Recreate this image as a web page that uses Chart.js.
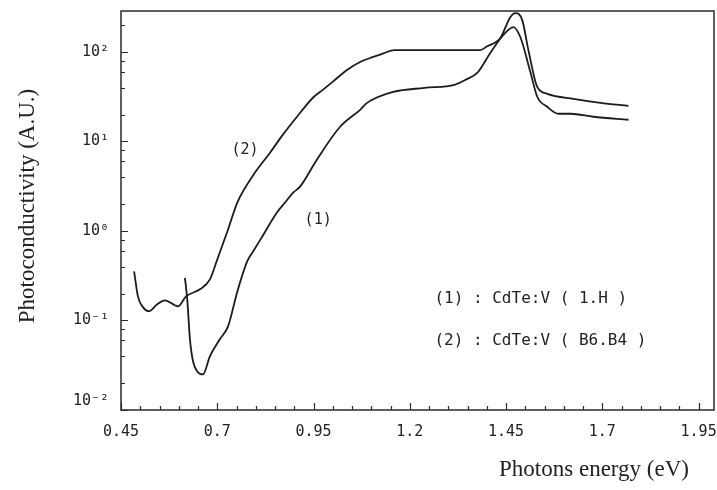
<!DOCTYPE html>
<html>
<head>
<meta charset="utf-8">
<script src="https://cdn.jsdelivr.net/npm/chart.js@4.4.1/dist/chart.umd.min.js"></script>
<style>
  body { margin: 0; background: #fff; }
  canvas { display: block; }
</style>
</head>
<body>
<canvas id="myChart" width="717" height="490"></canvas>
<script>
// curve (1) : CdTe:V ( 1.H )
const energy1 = [0.616, 0.622, 0.629, 0.637, 0.648, 0.663, 0.681, 0.707, 0.728, 0.752,
  0.778, 0.793, 0.817, 0.855, 0.876, 0.897, 0.915, 0.959, 1.019, 1.071,
  1.089, 1.157, 1.238, 1.316, 1.344, 1.375, 1.409, 1.443, 1.469, 1.487,
  1.513, 1.531, 1.557, 1.586, 1.617, 1.677, 1.768];
const photo1 = [0.30, 0.173, 0.062, 0.035, 0.027, 0.025, 0.040, 0.062, 0.086, 0.21,
  0.46, 0.59, 0.87, 1.61, 2.08, 2.68, 3.13, 6.3, 14.6, 22.6,
  27.0, 35.8, 39.7, 42.9, 48.7, 58.3, 97.5, 155, 190, 147,
  60, 31.6, 24.4, 20.4, 20.4, 18.9, 17.5];

// curve (2) : CdTe:V ( B6.B4 )
const energy2 = [0.484, 0.494, 0.507, 0.523, 0.544, 0.564, 0.590, 0.598, 0.619, 0.655,
  0.681, 0.700, 0.728, 0.752, 0.798, 0.837, 0.871, 0.907, 0.949, 0.975, 1.001,
  1.037, 1.071, 1.105, 1.130, 1.160, 1.250, 1.330, 1.383, 1.400, 1.435, 1.461,
  1.474, 1.492, 1.508, 1.531, 1.557, 1.625, 1.695, 1.768];
const photo2 = [0.354, 0.186, 0.141, 0.127, 0.152, 0.168, 0.148, 0.144, 0.186, 0.223,
  0.288, 0.48, 1.04, 2.08, 4.49, 7.5, 12, 18.9, 31, 38, 47,
  63, 77.4, 88, 96, 105, 105, 105, 105, 115, 143, 245,
  272, 227, 105, 40.7, 34.1, 29.9, 27.0, 25.0];

const xTickValues = [0.45, 0.7, 0.95, 1.2, 1.45, 1.7, 1.95];
const yTickValues = [0.01, 0.1, 1, 10, 100];
const yTickLabels = ['10⁻²', '10⁻¹', '10⁰', '10¹', '10²'];
const legendLines = ['(1) : CdTe:V ( 1.H )', '(2) : CdTe:V ( B6.B4 )'];
const curveNames = ['(1)', '(2)'];

const toPoints = (xs, ys) => xs.map((x, i) => ({ x: x, y: ys[i] }));

const monoFont = '"DejaVu Sans Mono", "Liberation Mono", monospace';
const serifFont = '"Liberation Serif", "DejaVu Serif", serif';

// frame, inward ticks, text notes and axis titles
const framePlugin = {
  id: 'frame',
  afterDraw(chart) {
    const { ctx, chartArea: a, scales } = chart;
    const x = scales.x, y = scales.y;
    ctx.save();
    ctx.strokeStyle = '#2a2a2a';
    ctx.lineWidth = 1.5;
    ctx.strokeRect(a.left, a.top, a.right - a.left, a.bottom - a.top);

    ctx.lineWidth = 1.2;
    ctx.beginPath();
    for (let i = 0; i <= 30; i++) {
      const v = 0.45 + i * 0.05;
      if (v > x.max) break;
      const px = Math.round(x.getPixelForValue(v)) + 0.5;
      const len = i % 5 === 0 ? 7 : 4;
      ctx.moveTo(px, a.bottom);
      ctx.lineTo(px, a.bottom - len);
    }
    for (let e = -2; e <= 2; e++) {
      for (const m of [1, 2, 4, 6, 8]) {
        const v = m * Math.pow(10, e);
        if (v > y.max || v < y.min) continue;
        const py = Math.round(y.getPixelForValue(v)) + 0.5;
        const len = m === 1 ? 7 : 4;
        ctx.moveTo(a.left, py);
        ctx.lineTo(a.left + len, py);
      }
    }
    ctx.stroke();

    ctx.fillStyle = '#222';
    ctx.textBaseline = 'middle';
    ctx.textAlign = 'center';
    ctx.font = '15px ' + monoFont;
    ctx.fillText(curveNames[1], x.getPixelForValue(0.772), y.getPixelForValue(8.1));
    ctx.fillText(curveNames[0], x.getPixelForValue(0.962), y.getPixelForValue(1.34));

    ctx.textAlign = 'left';
    ctx.font = '16px ' + monoFont;
    ctx.fillText(legendLines[0], x.getPixelForValue(1.264), y.getPixelForValue(0.173));
    ctx.fillText(legendLines[1], x.getPixelForValue(1.264), y.getPixelForValue(0.0588));

    ctx.font = '23px ' + serifFont;
    ctx.textAlign = 'right';
    ctx.fillText('Photons energy (eV)', 689, 470);

    ctx.translate(28, 206);
    ctx.rotate(-Math.PI / 2);
    ctx.textAlign = 'center';
    ctx.fillText('Photoconductivity (A.U.)', 0, 0);
    ctx.restore();
  }
};

const lineStyle = {
  borderColor: '#1c1c1c',
  borderWidth: 1.8,
  pointRadius: 0,
  cubicInterpolationMode: 'monotone',
  fill: false
};

new Chart(document.getElementById('myChart').getContext('2d'), {
  type: 'line',
  data: {
    datasets: [
      Object.assign({ label: legendLines[0], data: toPoints(energy1, photo1) }, lineStyle),
      Object.assign({ label: legendLines[1], data: toPoints(energy2, photo2) }, lineStyle)
    ]
  },
  options: {
    responsive: false,
    animation: false,
    layout: { padding: { left: 0, right: 3, top: 11, bottom: 0 } },
    plugins: {
      legend: { display: false },
      tooltip: { enabled: false }
    },
    scales: {
      x: {
        type: 'linear',
        min: 0.45,
        max: 1.99,
        bounds: 'data',
        grid: { display: false, drawTicks: false },
        border: { display: false },
        ticks: {
          padding: 13,
          color: '#222',
          font: { family: monoFont, size: 15 },
          callback: (value) => String(value)
        },
        afterBuildTicks: (scale) => {
          scale.ticks = xTickValues.map(v => ({ value: v }));
        },
        afterFit: (scale) => {
          scale.height = 80;
          scale.paddingLeft = 0;
          scale.paddingRight = 0;
        }
      },
      y: {
        type: 'logarithmic',
        min: 0.01,
        max: 287,
        bounds: 'data',
        grid: { display: false, drawTicks: false },
        border: { display: false },
        ticks: {
          padding: 12,
          color: '#222',
          font: { family: monoFont, size: 15 },
          callback: (value, index) => index === 0 ? [yTickLabels[0], ''] : yTickLabels[index]
        },
        afterBuildTicks: (scale) => {
          scale.ticks = yTickValues.map(v => ({ value: v }));
        },
        afterFit: (scale) => {
          scale.width = 121;
          scale.paddingTop = 0;
          scale.paddingBottom = 0;
        }
      }
    }
  },
  plugins: [framePlugin]
});
</script>
</body>
</html>
